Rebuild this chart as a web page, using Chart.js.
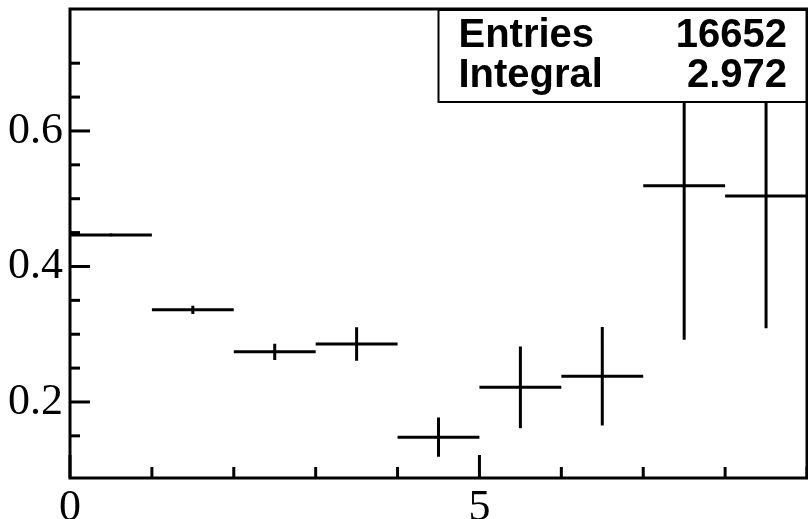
<!DOCTYPE html>
<html>
<head>
<meta charset="utf-8">
<script src="https://cdn.jsdelivr.net/npm/chart.js@4/dist/chart.umd.min.js"></script>
<style>
  html, body { margin: 0; padding: 0; background: #fff; }
  #wrap { width: 808px; height: 519px; }
</style>
</head>
<body>
<div id="wrap"><canvas id="hist"></canvas></div>
<script>
// histogram bins (edges), contents and errors
const binEdges = [0, 1, 2, 3, 4, 5, 6, 7, 8, 9];
const binValues = [0.4465, 0.336, 0.274, 0.2856, 0.148, 0.2216, 0.238, 0.519, 0.504];
const binErrors = [0.002, 0.006, 0.012, 0.0246, 0.029, 0.0602, 0.0726, 0.227, 0.195];
const yTickLabels = ['0.2', '0.4', '0.6'];
const xTickLabels = ['0', '5'];
const statNames = ['Entries', 'Integral'];
const statValues = ['16652', '2.972'];

// horizontal bin-width lines, broken between bins
const hLines = [];
binValues.forEach((v, i) => {
  hLines.push({x: binEdges[i], y: v}, {x: binEdges[i + 1], y: v}, {x: binEdges[i + 1], y: null});
});
// vertical error bars at bin centres
const eLines = [];
binValues.forEach((v, i) => {
  const c = (binEdges[i] + binEdges[i + 1]) / 2;
  eLines.push({x: c, y: v - binErrors[i]}, {x: c, y: v + binErrors[i]}, {x: c, y: null});
});

const near = (a, b) => Math.abs(a - b) < 1e-6;

// ROOT style frame, inner ticks and stats box
const rootFrame = {
  id: 'rootFrame',
  afterDatasetsDraw(chart) {
    const {ctx, chartArea: a, scales} = chart;
    ctx.save();
    ctx.strokeStyle = '#000';
    ctx.lineWidth = 3;
    scales.y.ticks.forEach(t => {
      const q = t.value / 0.05;
      if (!near(q, Math.round(q))) return;
      const major = yTickLabels.some(l => near(parseFloat(l), t.value));
      const py = scales.y.getPixelForValue(t.value);
      ctx.beginPath();
      ctx.moveTo(a.left, py);
      ctx.lineTo(a.left + (major ? 20 : 10), py);
      ctx.stroke();
    });
    scales.x.ticks.forEach(t => {
      const major = near(t.value % 5, 0);
      const px = scales.x.getPixelForValue(t.value);
      ctx.beginPath();
      ctx.moveTo(px, a.bottom);
      ctx.lineTo(px, a.bottom - (major ? 23 : 11));
      ctx.stroke();
    });

    // stats box
    const bx = a.left + (a.right - a.left) * 0.5;
    const by = a.top + 1;
    const bw = a.right - bx;
    const bh = 92;
    ctx.fillStyle = '#fff';
    ctx.fillRect(bx, by, bw, bh);
    ctx.lineWidth = 2;
    ctx.strokeRect(bx, by, bw, bh);
    ctx.fillStyle = '#000';
    ctx.font = 'bold 40px "Liberation Sans", Arial, sans-serif';
    ctx.textBaseline = 'alphabetic';
    statNames.forEach((n, i) => {
      const ty = by + 37 + i * 40;
      ctx.textAlign = 'left';
      ctx.fillText(n, bx + 20, ty);
      ctx.textAlign = 'right';
      ctx.fillText(statValues[i], a.right - 20, ty);
    });

    // frame
    ctx.lineWidth = 3;
    ctx.strokeRect(a.left, a.top, a.right - a.left, a.bottom - a.top);
    ctx.restore();
  }
};

new Chart(document.getElementById('hist'), {
  type: 'line',
  data: {
    datasets: [
      {data: hLines, borderColor: '#000', borderWidth: 3, pointRadius: 0, spanGaps: false},
      {data: eLines, borderColor: '#000', borderWidth: 3, pointRadius: 0, spanGaps: false}
    ]
  },
  options: {
    responsive: true,
    maintainAspectRatio: false,
    animation: false,
    events: [],
    layout: {padding: {top: 9, right: 1, left: 0, bottom: 0}},
    plugins: {legend: {display: false}, tooltip: {enabled: false}},
    scales: {
      x: {
        type: 'linear',
        min: 0,
        max: 9,
        grid: {display: false, drawTicks: false},
        border: {display: false},
        ticks: {
          stepSize: 1,
          autoSkip: false,
          maxRotation: 0,
          padding: 4,
          color: '#000',
          font: {family: '"Liberation Serif", "Times New Roman", serif', size: 44},
          callback: v => xTickLabels.find(l => near(parseFloat(l), v)) || ''
        },
        afterFit: s => { s.height = 41; s.paddingLeft = 0; s.paddingRight = 0; }
      },
      y: {
        type: 'linear',
        min: 0.0878,
        max: 0.78,
        grid: {display: false, drawTicks: false},
        border: {display: false},
        ticks: {
          stepSize: 0.05,
          autoSkip: false,
          padding: 7,
          color: '#000',
          font: {family: '"Liberation Serif", "Times New Roman", serif', size: 44},
          callback: v => yTickLabels.find(l => near(parseFloat(l), v)) || ''
        },
        afterFit: s => { s.width = 70; s.paddingTop = 0; s.paddingBottom = 0; }
      }
    }
  },
  plugins: [rootFrame]
});
</script>
</body>
</html>
